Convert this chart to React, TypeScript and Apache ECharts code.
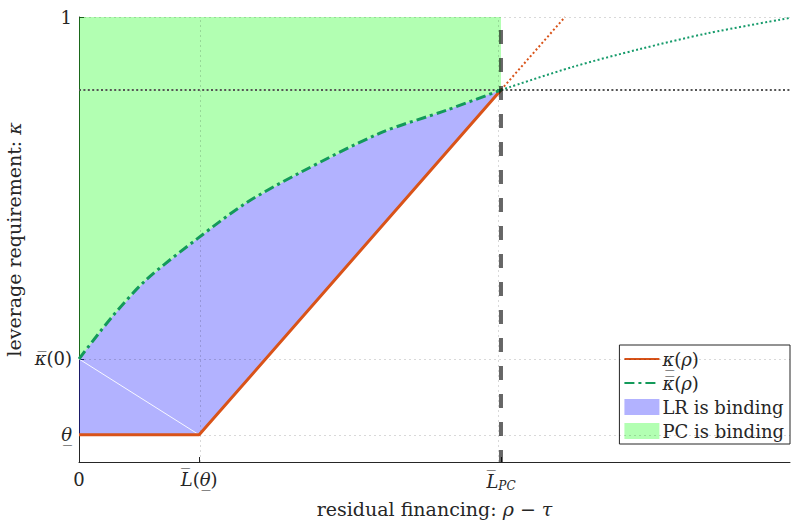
import React, { useEffect, useRef } from "react";
import * as echarts from "echarts";

// ---- data (axis units: x in [0,1], y in [0,1]) ----
const xTickValues = [0, 0.169, 0.5935]; // 0, L(theta), L_PC
const xTickLabels = ["0", "{i|L\u0305}({i|\u03B8\u0332})", "{i|L\u0305}{sub|PC}"];
const yTickValues = [0.061, 0.2315, 1]; // theta, kappaBar(0), 1
const yTickLabels = ["{i|\u03B8\u0332}", "{i|\u03BA\u0305}(0)", "1"];

const kappaPC = 0.836;
const lowerX = [0, 0.169, 0.5935];
const lowerY = [0.061, 0.061, 0.836];
const lowerExtX = [0.5935, 0.6835];
const lowerExtY = [0.836, 1.0];
const upperX = [0, 0.0464, 0.0942, 0.1674, 0.2349, 0.3094, 0.4233, 0.5176, 0.5935];
const upperY = [0.2315, 0.326, 0.409, 0.503, 0.582, 0.649, 0.739, 0.791, 0.836];
const upperExtX = [0.5935, 0.6948, 0.789, 0.883, 1.0];
const upperExtY = [0.836, 0.888, 0.928, 0.963, 0.998];

const legendNames = ["\u03BA\u0332(\u03C1)", "\u03BA\u0305(\u03C1)", "LR is binding", "PC is binding"];
const legendLabels = [
  "{i|\u03BA\u0332}({i|\u03C1})",
  "{i|\u03BA\u0305}({i|\u03C1})",
  "LR is binding",
  "PC is binding",
];

const FONT = "DejaVu Serif";
const TXT = "#262626";
const zip = (xs: number[], ys: number[]) => xs.map((x, i) => [x, ys[i]]);

export default function App() {
  const ref = useRef<HTMLDivElement>(null);
  useEffect(() => {
    const chart = echarts.init(ref.current!, null, { renderer: "svg" });
    const upperPts = zip(upperX, upperY);
    const lowerPts = zip(lowerX, lowerY);
    const xMin = 0, xMax = 1, yMin = 0, yMax = 1;

    const rich = {
      i: { fontStyle: "italic", fontFamily: FONT, fontSize: 18, color: TXT },
      sub: { fontStyle: "italic", fontFamily: FONT, fontSize: 12, color: TXT, padding: [10, 0, 0, 0] },
    };
    const nameRich = { i: { fontStyle: "italic", fontFamily: FONT, fontSize: 19, color: TXT } };

    const option: any = {
      animation: false,
      textStyle: { fontFamily: FONT },
      grid: { left: 79, top: 17, right: 1, bottom: 63, containLabel: false, outerBoundsMode: "none" },
      xAxis: {
        type: "value",
        min: xMin,
        max: xMax,
        name: "residual financing: {i|\u03C1} \u2212 {i|\u03C4}",
        nameLocation: "middle",
        nameGap: 37,
        nameTextStyle: { fontFamily: FONT, fontSize: 19, color: TXT, rich: nameRich },
        axisLine: { show: true, lineStyle: { color: TXT, width: 1 } },
        axisTick: { show: true, inside: true, length: 5, customValues: xTickValues, lineStyle: { color: TXT } },
        axisLabel: {
          customValues: xTickValues,
          margin: 8,
          fontFamily: FONT, fontSize: 18, color: TXT,
          formatter: (v: number) => {
            const k = xTickValues.findIndex((t) => Math.abs(t - v) < 1e-6);
            return k >= 0 ? xTickLabels[k] : "";
          },
          rich,
        },
        splitLine: { show: false },
      },
      yAxis: {
        type: "value",
        min: yMin,
        max: yMax,
        name: "leverage requirement: {i|\u03BA}",
        nameLocation: "middle",
        nameGap: 56,
        nameRotate: 90,
        nameTextStyle: { fontFamily: FONT, fontSize: 19, color: TXT, rich: nameRich },
        axisLine: { show: true, lineStyle: { color: TXT, width: 1 } },
        axisTick: { show: true, inside: true, length: 5, customValues: yTickValues, lineStyle: { color: TXT } },
        axisLabel: {
          customValues: yTickValues,
          margin: 7,
          fontFamily: FONT, fontSize: 18, color: TXT,
          formatter: (v: number) => {
            const k = yTickValues.findIndex((t) => Math.abs(t - v) < 1e-6);
            return k >= 0 ? yTickLabels[k] : "";
          },
          rich,
        },
        splitLine: { show: false },
      },
      legend: {
        orient: "vertical",
        right: 1,
        top: 345,
        itemWidth: 35,
        itemHeight: 16,
        itemGap: 6,
        padding: [5, 6, 4, 4],
        borderColor: TXT,
        borderWidth: 1,
        borderRadius: 0,
        backgroundColor: "#fff",
        textStyle: {
          fontFamily: FONT, fontSize: 18, color: TXT, padding: [0, 0, 0, -2],
          rich: { i: { fontStyle: "italic", fontFamily: FONT, fontSize: 18, color: TXT } },
        },
        formatter: (name: string) => legendLabels[legendNames.indexOf(name)] ?? name,
        data: [
          { name: legendNames[0], itemStyle: { opacity: 0 } },
          { name: legendNames[1], itemStyle: { opacity: 0 } },
          { name: legendNames[2], icon: "rect" },
          { name: legendNames[3], icon: "rect" },
        ],
      },
      series: [
        {
          name: legendNames[3],
          type: "custom",
          z: 1,
          silent: true,
          itemStyle: { color: "rgba(0,255,0,0.3)" },
          data: [[0, 1]],
          renderItem: (params: any, api: any) => {
            const pts = upperPts.map((p) => api.coord(p));
            pts.push(api.coord([upperX[upperX.length - 1], yMax]));
            pts.push(api.coord([0, yMax]));
            return { type: "polygon", shape: { points: pts }, style: { fill: "rgba(0,255,0,0.3)" } };
          },
        },
        {
          name: legendNames[2],
          type: "custom",
          z: 1,
          silent: true,
          itemStyle: { color: "rgba(0,0,255,0.3)" },
          data: [[0, 0]],
          renderItem: (params: any, api: any) => {
            const pts = upperPts.map((p) => api.coord(p));
            for (let i = lowerPts.length - 1; i >= 0; i--) pts.push(api.coord(lowerPts[i]));
            const a = api.coord(upperPts[0]);
            const b = api.coord(lowerPts[1]);
            return {
              type: "group",
              children: [
                { type: "polygon", shape: { points: pts }, style: { fill: "rgba(0,0,255,0.3)" } },
                {
                  type: "line",
                  shape: { x1: a[0], y1: a[1], x2: b[0], y2: b[1] },
                  style: { stroke: "rgba(255,255,255,0.9)", lineWidth: 1 },
                },
              ],
            };
          },
        },
        {
          name: "grid",
          type: "line",
          data: [],
          z: 2,
          silent: true,
          markLine: {
            silent: true,
            symbol: "none",
            label: { show: false },
            lineStyle: { color: "rgba(0,0,0,0.15)", type: [2, 3], width: 1 },
            data: [
              ...xTickValues.slice(1).map((v) => ({ xAxis: v })),
              ...yTickValues.map((v) => ({ yAxis: v })),
            ],
          },
        },
        {
          name: "kappaPC",
          type: "line",
          z: 3,
          silent: true,
          symbol: "none",
          data: [[xMin, kappaPC], [xMax, kappaPC]],
          lineStyle: { color: "#555", width: 2, type: [2, 2.4] },
        },
        {
          name: "lowerExt",
          type: "line",
          z: 4,
          silent: true,
          symbol: "none",
          data: zip(lowerExtX, lowerExtY),
          lineStyle: { color: "#D95319", width: 2, type: [2, 2.4] },
        },
        {
          name: "upperExt",
          type: "line",
          z: 4,
          silent: true,
          symbol: "none",
          smooth: 0.3,
          data: zip(upperExtX, upperExtY),
          lineStyle: { color: "#169B6B", width: 2, type: [2, 2.4] },
        },
        {
          name: legendNames[0],
          type: "line",
          z: 5,
          silent: true,
          symbol: "none",
          showSymbol: false,
          data: lowerPts,
          color: "#D95319",
          lineStyle: { color: "#D95319", width: 3 },
        },
        {
          name: legendNames[1],
          type: "line",
          z: 5,
          silent: true,
          symbol: "none",
          showSymbol: false,
          smooth: 0.3,
          data: upperPts,
          color: "#139A5A",
          lineStyle: { color: "#139A5A", width: 3, type: [10, 4, 3, 4] },
        },
        {
          name: "LPC",
          type: "line",
          z: 6,
          silent: true,
          symbol: "none",
          data: [[xTickValues[2], yMin], [xTickValues[2], yMax]],
          lineStyle: { color: "rgba(0,0,0,0.6)", width: 4, type: [14, 14], dashOffset: 2 },
        },
      ],
    };
    chart.setOption(option);
    return () => chart.dispose();
  }, []);
  return <div ref={ref} style={{ width: 791, height: 525, position: "absolute", left: 0, top: 0 }} />;
}
